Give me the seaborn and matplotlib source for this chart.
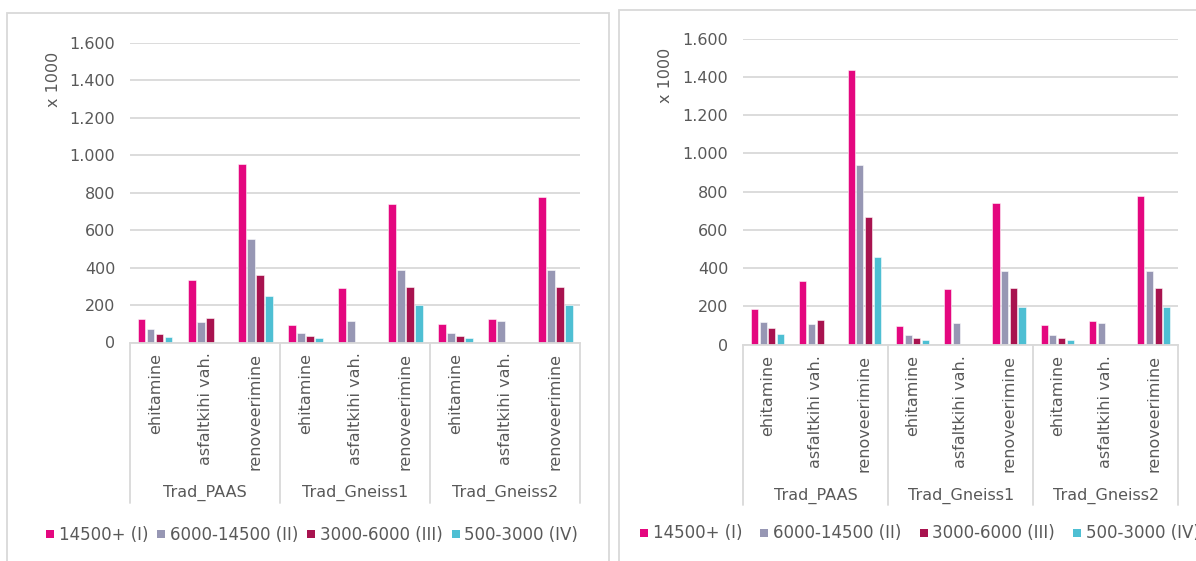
import numpy as np
import pandas as pd
import matplotlib
matplotlib.use("Agg")
import matplotlib.pyplot as plt
import matplotlib.transforms as mtransforms
from matplotlib.patches import Rectangle
from matplotlib.lines import Line2D
import seaborn as sns

# ---- data (thousands) ----
groups = ["Trad_PAAS", "Trad_Gneiss1", "Trad_Gneiss2"]
works = ["ehitamine", "asfaltkihi vah.", "renoveerimine"]
series = ["14500+ (I)", "6000-14500 (II)", "3000-6000 (III)", "500-3000 (IV)"]
colors = ["#E4077F", "#9797B4", "#A8134F", "#4EBFD3"]

# left chart: one value per (group, work) slot, None = no bar
left_I = [123, 334, 952, 96, 290, 740, 101, 123, 779]
left_II = [70, 109, 554, 50, 114, 385, 50, 114, 385]
left_III = [45, 132, 359, 37, None, 296, 37, None, 296]
left_IV = [30, None, 246, 23, None, 198, 23, None, 198]

# right chart
right_I = [187, 333, 1438, 96, 290, 740, 101, 123, 779]
right_II = [120, 106, 938, 50, 114, 385, 50, 114, 385]
right_III = [85, 131, 669, 37, None, 296, 37, None, 296]
right_IV = [58, None, 457, 23, None, 198, 23, None, 198]

yticks = [0, 200, 400, 600, 800, 1000, 1200, 1400, 1600]
ytick_labels = ["0", "200", "400", "600", "800", "1.000", "1.200", "1.400", "1.600"]
axis_title = "x 1000"

sns.set_style("white")
plt.rcParams["font.family"] = ["DejaVu Sans"]

W, H = 1196, 561
TXT = "#595959"
LINE = "#D9D9D9"
FS = 11.5
FS_LEG = 12

fig = plt.figure(figsize=(W / 100, H / 100), dpi=100)

slots = [f"{g}|{w}" for g in groups for w in works]


def long_table(cols):
    rows = []
    for s, vals in zip(series, cols):
        for slot, v in zip(slots, vals):
            if v is not None:
                rows.append({"slot": slot, "series": s, "value": v})
    return pd.DataFrame(rows)


def draw_panel(cols, x0, x1, y_zero, y_top, sep_bottom, group_y, label_xy,
               legend_x, legend_y, colspace):
    ax = fig.add_axes([x0 / W, 1 - y_zero / H, (x1 - x0) / W, (y_zero - y_top) / H])
    df = long_table(cols)
    sns.barplot(data=df, x="slot", y="value", hue="series", order=slots,
                hue_order=series, palette=colors, saturation=1, width=0.72,
                gap=0.18, errorbar=None, legend=False, ax=ax,
                edgecolor=(1, 1, 1, 0.55), linewidth=0.7)
    ax.set_xlim(-0.5, len(slots) - 0.5)
    ax.set_ylim(0, 1600)
    ax.set_yticks(yticks, ytick_labels)
    ax.set_xticks(range(len(slots)), works * len(groups), rotation=90)
    ax.set_xlabel("")
    ax.set_ylabel("")
    ax.yaxis.grid(True, color=LINE, lw=1.3)
    ax.set_axisbelow(True)
    for side in ["left", "right", "top"]:
        ax.spines[side].set_visible(False)
    ax.spines["bottom"].set_color(LINE)
    ax.spines["bottom"].set_linewidth(1.3)
    ax.tick_params(axis="y", length=0, pad=10.8, labelsize=FS, labelcolor=TXT)
    ax.tick_params(axis="x", length=0, pad=7.2, labelsize=FS, labelcolor=TXT)

    h_px = y_zero - y_top
    trans = mtransforms.blended_transform_factory(ax.transData, ax.transAxes)
    y_sep = -(sep_bottom - y_zero) / h_px
    for xs in np.arange(-0.5, len(slots), 3):
        ax.plot([xs, xs], [0, y_sep], color=LINE, lw=1.3, transform=trans,
                clip_on=False)
    y_grp = -(group_y - y_zero) / h_px
    for i, g in enumerate(groups):
        ax.text(3 * i + 1, y_grp, g, transform=trans, ha="center", va="center",
                fontsize=FS, color=TXT)

    fig.text(label_xy[0] / W, 1 - label_xy[1] / H, axis_title, rotation=90,
             ha="center", va="center", fontsize=FS, color=TXT)

    handles = [Line2D([], [], marker="s", linestyle="none", markersize=6.3,
                      markerfacecolor=c, markeredgewidth=0) for c in colors]
    fig.legend(handles, series, loc="center left",
               bbox_to_anchor=(legend_x / W, 1 - legend_y / H), ncol=4,
               frameon=False, handlelength=0.55, handletextpad=0.25,
               columnspacing=colspace, borderpad=0, borderaxespad=0,
               fontsize=FS_LEG, labelcolor=TXT)
    return ax


draw_panel([left_I, left_II, left_III, left_IV], 130.3, 580.4, 342.5, 42.7,
           503, 493, (53.5, 79.5), 45.5, 534.5, 0.5)
draw_panel([right_I, right_II, right_III, right_IV], 743.4, 1178, 344.7, 38.7,
           505, 496, (666, 75), 639.5, 533.5, 1.05)

# chart frames
for left, right, top in [(7.3, 609.3, 13.3), (619.3, 1300, 9.5)]:
    fig.patches.append(Rectangle((left / W, -0.2), (right - left) / W,
                                 1 - top / H + 0.2, transform=fig.transFigure,
                                 fill=False, edgecolor=LINE, lw=1.3))

fig.savefig("out.png", dpi=100)
